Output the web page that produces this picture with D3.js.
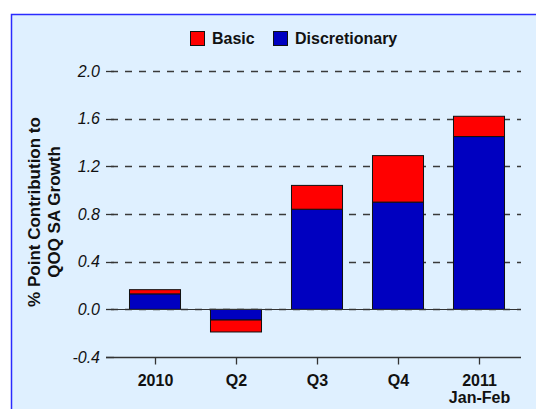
<!DOCTYPE html>
<html>
  <head>
    <meta charset="utf-8">
    <style>
    body { margin: 0; background: #fff; }
    svg text { font-family: "Liberation Sans", Arial, sans-serif; fill: #111; }
    .grid line { stroke: #3a3a3a; stroke-width: 1.3; stroke-dasharray: 7,7; }
    </style>
    <script src="https://d3js.org/d3.v7.min.js"></script>
  </head>
  <body>
    <svg width="536" height="409"></svg>
    <script>
      var categories = ["2010", "Q2", "Q3", "Q4", "2011\nJan-Feb"];
      var discretionary = [0.13, -0.09, 0.84, 0.90, 1.45];
      var basic = [0.035, -0.10, 0.20, 0.39, 0.17];
      var yTicks = [-0.4, 0.0, 0.4, 0.8, 1.2, 1.6, 2.0];
      var seriesNames = ["Basic", "Discretionary"];
      var colors = { Basic: "#ff0000", Discretionary: "#0000c0" };

      var svg = d3.select("svg");

      // panel
      svg.append("rect")
          .attr("x", 11.5).attr("y", 14.5)
          .attr("width", 540).attr("height", 410)
          .attr("fill", "#dff0ff")
          .attr("stroke", "#2b2bff")
          .attr("stroke-width", 1.5);

      var x = d3.scaleBand()
          .domain(categories)
          .range([114.5, 519.5])
          .paddingInner(0.37)
          .paddingOuter(0.185);

      var y = d3.scaleLinear()
          .domain([-0.4, 2.0])
          .range([357, 71]);

      // gridlines
      svg.append("g")
          .attr("class", "grid")
          .selectAll("line")
          .data(yTicks.filter(function(d) { return d > -0.4; }))
          .enter().append("line")
            .attr("x1", 111).attr("x2", 521)
            .attr("y1", function(d) { return Math.round(y(d)) + 0.5; })
            .attr("y2", function(d) { return Math.round(y(d)) + 0.5; });

      // y axis ticks and labels
      var yAxis = svg.append("g");
      yAxis.selectAll("line")
          .data(yTicks)
          .enter().append("line")
            .attr("x1", 106).attr("x2", 114)
            .attr("y1", function(d) { return Math.round(y(d)) + 0.5; })
            .attr("y2", function(d) { return Math.round(y(d)) + 0.5; })
            .attr("stroke", "#333").attr("stroke-width", 1.3);
      yAxis.selectAll("text")
          .data(yTicks)
          .enter().append("text")
            .attr("x", 100)
            .attr("y", function(d) { return y(d); })
            .attr("dy", "0.35em")
            .attr("text-anchor", "end")
            .attr("font-size", 16)
            .attr("font-style", "italic")
            .attr("fill", "#222")
            .text(function(d) { return d.toFixed(1); });

      // stacked bars
      var rows = categories.map(function(c, i) {
        var d = discretionary[i], b = basic[i];
        return [
          { cat: c, name: "Discretionary", y0: 0, y1: d },
          { cat: c, name: "Basic", y0: d, y1: d + b }
        ];
      });
      svg.append("g")
          .selectAll("g")
          .data(rows)
          .enter().append("g")
          .selectAll("rect")
          .data(function(d) { return d; })
          .enter().append("rect")
            .attr("x", function(d) { return x(d.cat); })
            .attr("width", x.bandwidth())
            .attr("y", function(d) { return y(Math.max(d.y0, d.y1)); })
            .attr("height", function(d) { return Math.abs(y(d.y0) - y(d.y1)); })
            .attr("fill", function(d) { return colors[d.name]; })
            .attr("stroke", "#111")
            .attr("stroke-width", 1);

      // zero line
      svg.append("line")
          .attr("x1", 106).attr("x2", 521)
          .attr("y1", Math.round(y(0)) + 0.5).attr("y2", Math.round(y(0)) + 0.5)
          .attr("stroke", "#333").attr("stroke-width", 1);

      // x axis
      var bottom = Math.round(y(-0.4)) + 0.5;
      svg.append("line")
          .attr("x1", 106).attr("x2", 521)
          .attr("y1", bottom).attr("y2", bottom)
          .attr("stroke", "#333").attr("stroke-width", 1.3);
      var xAxis = svg.append("g")
          .selectAll("g")
          .data(categories)
          .enter().append("g")
            .attr("transform", function(d) { return "translate(" + Math.round(x(d) + x.bandwidth() / 2) + ",0)"; });
      xAxis.append("line")
          .attr("x1", 0.5).attr("x2", 0.5)
          .attr("y1", bottom).attr("y2", bottom + 7)
          .attr("stroke", "#333").attr("stroke-width", 1.3);
      xAxis.append("text")
          .attr("y", 386)
          .attr("text-anchor", "middle")
          .attr("font-size", 16)
          .attr("font-weight", "bold")
          .selectAll("tspan")
          .data(function(d) { return d.split("\n"); })
          .enter().append("tspan")
            .attr("x", 0.5)
            .attr("dy", function(d, i) { return i ? 17 : 0; })
            .text(function(d) { return d; });

      // y axis title
      var title = svg.append("text")
          .attr("transform", "translate(0,212) rotate(-90)")
          .attr("text-anchor", "middle")
          .attr("font-size", 17)
          .attr("font-weight", "bold");
      title.append("tspan").attr("x", 0).attr("y", 40).text("% Point Contribution to");
      title.append("tspan").attr("x", 0).attr("y", 60).text("QOQ SA Growth");

      // legend
      var legendX = [190, 273];
      var legend = svg.append("g")
          .selectAll("g")
          .data(seriesNames)
          .enter().append("g")
            .attr("transform", function(d, i) { return "translate(" + legendX[i] + ",31)"; });
      legend.append("rect")
          .attr("x", 0.5).attr("y", 0.5)
          .attr("width", 14).attr("height", 14)
          .attr("fill", function(d) { return colors[d]; })
          .attr("stroke", "#111");
      legend.append("text")
          .attr("x", 22).attr("y", 13)
          .attr("font-size", 16)
          .attr("font-weight", "bold")
          .text(function(d) { return d; });
    </script>
  </body>
</html>
